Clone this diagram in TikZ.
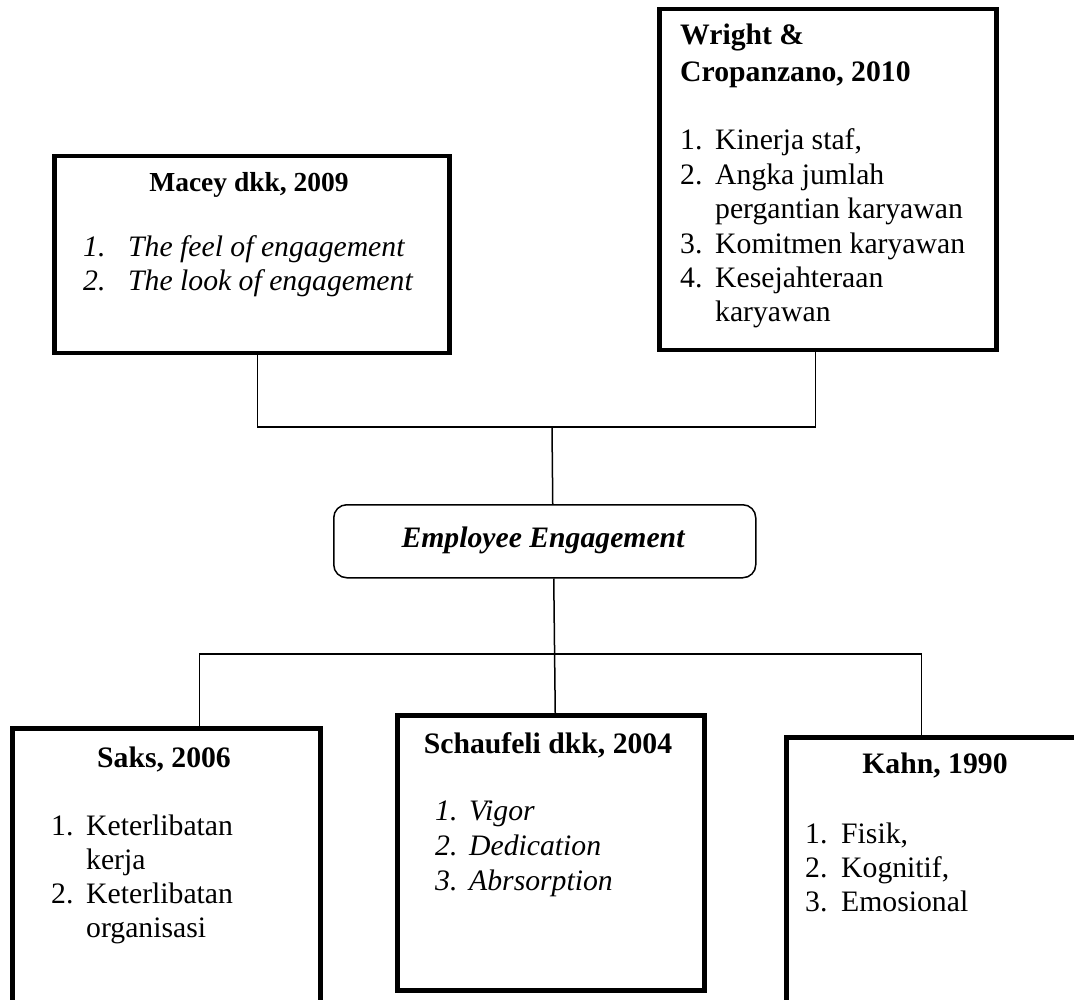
\documentclass[tikz,border=0pt]{standalone}
\usepackage{fontspec}
\setmainfont{Liberation Serif}
\begin{document}
\begin{tikzpicture}[x=1pt,y=-1pt,
  thickbox/.style={draw, line width=4.5pt, rectangle, inner sep=0pt, anchor=north west},
  eebox/.style={draw, line width=1.5pt, rectangle, rounded corners=13pt, inner sep=0pt, anchor=north west},
  conn/.style={line width=1.5pt},
  txt/.style={anchor=base west, inner sep=0pt, font=\fontsize{29.7}{35}\selectfont},
  itx/.style={txt, font=\fontsize{29.7}{35}\selectfont\itshape},
  ttl/.style={anchor=base, inner sep=0pt, font=\fontsize{29.7}{35}\selectfont\bfseries},
  ttlw/.style={anchor=base west, inner sep=0pt, font=\fontsize{29.7}{35}\selectfont\bfseries},
]
\useasboundingbox (0,0) rectangle (1074,1000);
\clip (0,0) rectangle (1074,1000);

% boxes
\node[thickbox, minimum width=395pt, minimum height=197pt] (macey) at (52,154) {};
\node[thickbox, minimum width=337pt, minimum height=341pt] (wright) at (657,7) {};
\node[eebox, minimum width=422pt, minimum height=73pt] (ee) at (333,504) {};
\node[thickbox, minimum width=308pt, minimum height=320pt] (saks) at (10,726) {};
\node[thickbox, minimum width=307pt, minimum height=275pt] (schau) at (395,713) {};
\node[thickbox, minimum width=320pt, minimum height=320pt] (kahn) at (784,735) {};

% Macey text
\node[ttl, font=\fontsize{27.5}{33}\selectfont\bfseries] (mT) at (249,192) {Macey dkk, 2009};
\node[itx] (m1n) at (83,257) {1.};
\node[itx] (m1t) at (128,257) {The feel of engagement};
\node[itx] (m2n) at (83,291) {2.};
\node[itx] (m2t) at (128,291) {The look of engagement};

% Wright text
\node[ttlw] (wT1) at (680,45) {Wright \&};
\node[ttlw] (wT2) at (680,82) {Cropanzano, 2010};
\node[txt] (w1n) at (680,150) {1.};
\node[txt] (w1t) at (715,150) {Kinerja staf,};
\node[txt] (w2n) at (680,185) {2.};
\node[txt] (w2t) at (715,185) {Angka jumlah};
\node[txt] (w2u) at (715,219) {pergantian karyawan};
\node[txt] (w3n) at (680,254) {3.};
\node[txt] (w3t) at (715,254) {Komitmen karyawan};
\node[txt] (w4n) at (680,288) {4.};
\node[txt] (w4t) at (715,288) {Kesejahteraan};
\node[txt] (w4u) at (715,322) {karyawan};

% EE text
\node[anchor=base, inner sep=0pt, font=\fontsize{29.7}{35}\selectfont\bfseries\itshape] (eeT) at (543,547) {Employee Engagement};

% Saks text
\node[ttl] (sT) at (164,767) {Saks, 2006};
\node[txt] (s1n) at (51,835) {1.};
\node[txt] (s1t) at (86,835) {Keterlibatan};
\node[txt] (s1u) at (86,869) {kerja};
\node[txt] (s2n) at (51,903) {2.};
\node[txt] (s2t) at (86,903) {Keterlibatan};
\node[txt] (s2u) at (86,937) {organisasi};

% Schaufeli text
\node[ttl] (cT) at (548,753) {Schaufeli dkk, 2004};
\node[itx] (c1n) at (435,820) {1.};
\node[itx] (c1t) at (469,820) {Vigor};
\node[itx] (c2n) at (435,855) {2.};
\node[itx] (c2t) at (469,855) {Dedication};
\node[itx] (c3n) at (435,890) {3.};
\node[itx] (c3t) at (469,890) {Abrsorption};

% Kahn text
\node[ttl] (kT) at (935,773) {Kahn, 1990};
\node[txt] (k1n) at (805,843) {1.};
\node[txt] (k1t) at (841,843) {Fisik,};
\node[txt] (k2n) at (805,877) {2.};
\node[txt] (k2t) at (841,877) {Kognitif,};
\node[txt] (k3n) at (805,911) {3.};
\node[txt] (k3t) at (841,911) {Emosional};

% connectors
\coordinate (top) at (552,427);
\coordinate (bot) at (553,654);
\draw[conn] ([xshift=5.5pt]macey.south) |- (top) -| ([xshift=-12.5pt]wright.south);
\draw[conn] (top) -- ([xshift=8pt]ee.north);
\draw[conn] ([xshift=9pt]ee.south) -- ([xshift=4.5pt]schau.north);
\draw[conn] ([xshift=33pt]saks.north) |- (bot) -| ([xshift=-25pt]kahn.north);
\end{tikzpicture}
\end{document}
